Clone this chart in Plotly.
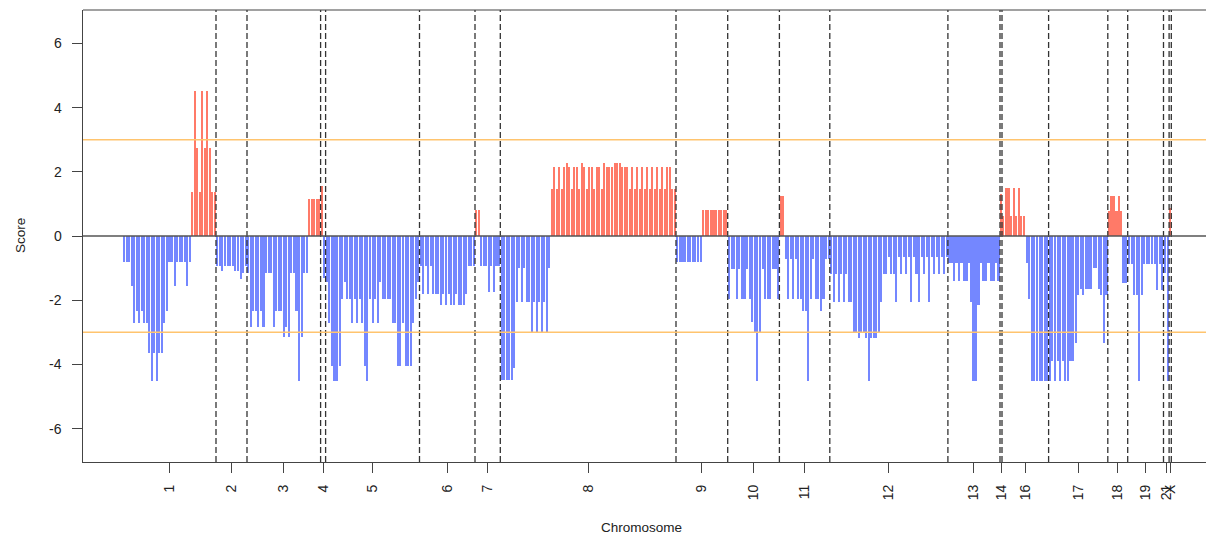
import plotly.graph_objects as go

# Chromosomes shown (15, 20 and 22 carry no probes)
chrom_names = ["1", "2", "3", "4", "5", "6", "7", "8", "9", "10", "11", "12",
               "13", "14", "16", "17", "18", "19", "21", "X"]

# Genome-order position of each chromosome edge (first entry = first probe)
chrom_edges = [40, 133, 164, 237.6, 242.6, 336.5, 392, 417.3, 593, 644.7, 696.4,
               746.8, 864.9, 917, 919, 965.6, 1024.8, 1044.7, 1080.5, 1086.1, 1088.3]

# Probe scores per chromosome, in genome order
chr1 = [-0.82, -0.82, -0.82, -1.55, -2.7, -2.33, -2.7, -2.33, -2.7, -2.7,
        -3.63, -4.52, -3.63, -4.52, -3.63, -3.63, -2.7, -2.33,
        -0.82, -0.82, -1.55, -0.82, -0.82, -0.82, -0.82, -1.55, -0.82,
        1.36, 4.53, 2.73, 1.36, 4.53, 2.73, 4.53, 2.73, 1.36, 1.36]
chr2 = [-0.93, -0.93, -1.08, -0.93, -0.93, -0.93, -0.93, -1.08, -1.08, -1.34, -1.16, -0.93]
chr3 = [-1.16, -2.85, -2.33, -2.33, -2.85, -2.33, -2.85, -1.16, -1.16, -1.16,
        -2.85, -2.33, -2.33, -2.33, -3.14, -2.85, -3.14, -1.16, -1.16,
        -2.33, -4.52, -3.14, -1.16, -1.16, 1.14, 1.14, 1.14, 1.14, 1.14]
chr4 = [1.55, -1.3]
chr5 = [-1.44, -2.72, -4.05, -4.52, -4.52, -4.05, -1.97, -1.44, -1.97, -1.97,
        -2.72, -1.97, -2.72, -1.97, -2.72, -4.05, -4.52, -1.97, -2.72, -1.97,
        -2.72, -1.44, -1.97, -1.97, -1.97, -1.97, -2.72, -2.72, -4.05, -4.05,
        -2.72, -4.05, -4.05, -4.05, -2.72, -1.97, -1.44]
chr6 = [-0.92, -1.82, -0.92, -1.82, -0.92, -1.82, -1.82, -1.82, -2.15, -1.82,
        -2.15, -1.82, -2.15, -2.15, -1.82, -2.15, -2.15, -2.15, -1.82,
        -0.92, -0.92, -0.92]
chr7 = [0.81, 0.81, -0.92, -0.92, -0.92, -1.73, -0.92, -1.73, -0.92, -0.92]
chr8 = [-4.47, -4.47, -4.47, -4.47, -4.47, -4.1, -2.05, -0.99, -2.05, -0.99,
        -2.05, -2.05, -2.98, -2.05, -2.98, -2.05, -2.98, -2.05, -2.98, -0.99,
        1.46, 2.14, 1.46, 2.14, 1.46, 2.14, 2.26, 2.14, 1.46, 2.14,
        2.14, 1.46, 2.26, 2.14, 1.46, 2.14, 2.14, 1.46, 2.14, 2.14,
        1.46, 2.26, 2.14, 2.14, 2.14, 2.26, 2.26, 2.26, 2.14, 2.14,
        2.14, 1.46, 2.14, 1.46, 2.14, 1.46, 2.14, 1.46, 2.14, 1.46,
        2.14, 1.46, 2.14, 1.46, 2.14, 1.46, 2.14, 2.14, 1.46, 1.46]
chr9 = [-0.82, -0.82, -0.82, -0.82, -0.82, -0.82, -0.82, -0.82, -0.82, -0.82,
        0.81, 0.81, 0.81, 0.81, 0.81, 0.81, 0.81, 0.81, 0.81, 0.81]
chr10 = [-1.96, -1.03, -1.03, -1.96, -1.03, -1.96, -1.96, -1.03, -1.96, -2.67,
         -2.98, -4.52, -2.98, -1.03, -1.96, -1.96, -1.96, -1.03, -1.03, -1.96]
chr11 = [1.25, 1.25, -0.73, -1.96, -0.73, -1.96, -0.73, -1.96, -1.96, -2.34,
         -2.34, -4.52, -1.96, -0.73, -1.96, -1.96, -2.34, -1.96, -0.73, -0.73]
chr12 = [-1.18, -2.05, -1.18, -2.05, -1.18, -2.05, -1.18, -2.05,
         -2.05, -2.98, -2.98, -3.19, -2.98, -2.98, -3.19, -4.52, -3.19, -3.19,
         -3.19, -2.98, -2.05, -1.18,
         -1.18, -0.64, -1.18, -1.18, -2.05, -0.64, -1.18, -0.64, -1.18, -0.64,
         -2.05, -0.64, -1.18, -2.05, -0.64, -1.18, -0.64, -2.05, -0.64, -1.18,
         -0.64, -1.18, -0.64, -1.18, -0.64]
chr13 = [-0.85, -0.85, -1.39, -0.85, -1.39, -0.85, -1.39, -1.39, -0.85, -2.05,
         -4.52, -4.52, -2.15, -0.85, -1.39, -1.39, -0.85, -1.39, -1.39, -0.85, -1.39]
chr14 = [1.3]
chr16 = [0.63, 1.5, 1.5, 0.63, 1.5, 0.63, 1.5, 0.63, 0.63,
         -0.85, -1.97, -4.52, -4.52, -4.52, -4.52, -4.52, -4.52, -4.52]
chr17 = [-4.52, -3.88, -4.52, -3.88, -4.52, -3.88, -4.52, -4.52, -3.88, -3.88,
         -3.34, -1.84, -1.65, -1.84, -1.65, -1.65, -1.65, -0.99, -0.99, -1.65,
         -1.84, -3.34, -1.84]
chr18 = [0.78, 1.25, 1.25, 0.78, 1.25, 0.78, -1.45, -1.45]
chr19 = [-0.87, -0.87, -1.84, -1.84, -4.52, -1.84, -0.87, -0.87, -0.87, -0.87,
         -0.87, -1.68, -0.87, -1.68]
chr21 = [-1.15, -4.52]
chrX = [0.86]

chrom_scores = [chr1, chr2, chr3, chr4, chr5, chr6, chr7, chr8, chr9, chr10, chr11,
                chr12, chr13, chr14, chr16, chr17, chr18, chr19, chr21, chrX]

threshold = 3
y_ticks = [-6, -4, -2, 0, 2, 4, 6]

BLUE = "#7487FF"
RED = "#FF7A68"
AXIS = "#444444"

# Spread each chromosome's probes evenly over its span
xs, ys, ws, cols = [], [], [], []
for i, scores in enumerate(chrom_scores):
    start, end = chrom_edges[i], chrom_edges[i + 1]
    step = (end - start) / len(scores)
    for k, v in enumerate(scores):
        xs.append(start + (k + 0.5) * step)
        ys.append(v)
        ws.append(step * 0.8)
        cols.append(RED if v > 0 else BLUE)

mids = [(chrom_edges[i] + chrom_edges[i + 1]) / 2 for i in range(len(chrom_names))]

fig = go.Figure()
fig.add_trace(go.Bar(x=xs, y=ys, width=ws, marker=dict(color=cols, line=dict(width=0)),
                     showlegend=False, hoverinfo="x+y"))

shapes = []
# chromosome boundaries
for e in chrom_edges[1:]:
    shapes.append(dict(type="line", xref="x", yref="paper", x0=e, x1=e, y0=0, y1=1,
                       line=dict(color="#333333", width=1.3, dash="6px,3px"), layer="above"))
# significance thresholds
for t in (threshold, -threshold):
    shapes.append(dict(type="line", xref="paper", yref="y", x0=0, x1=1, y0=t, y1=t,
                       line=dict(color="#FFC46E", width=1.5), layer="above"))
# baseline
shapes.append(dict(type="line", xref="paper", yref="y", x0=0, x1=1, y0=0, y1=0,
                   line=dict(color="#555555", width=1.3), layer="above"))
# top frame
shapes.append(dict(type="line", xref="paper", yref="paper", x0=0, x1=1, y0=1, y1=1,
                   line=dict(color=AXIS, width=1.2), layer="above"))

W, H = 1206, 538
ML, MT, MB = 83, 10, 76
plot_w, plot_h = W - ML, H - MT - MB

annotations = [
    dict(text="Chromosome", xref="paper", yref="paper",
         x=(641 - ML) / plot_w, y=(H - MB - 527) / plot_h,
         xanchor="center", yanchor="middle", showarrow=False, font=dict(size=13.5)),
    dict(text="Score", xref="paper", yref="paper",
         x=(20 - ML) / plot_w, y=0.5, textangle=-90,
         xanchor="center", yanchor="middle", showarrow=False, font=dict(size=13.5)),
]
# y tick labels, right-aligned a little left of the tick marks
for v in y_ticks:
    annotations.append(dict(text=str(v), xref="paper", yref="y",
                            x=(64 - ML) / plot_w, y=v, xanchor="right", yanchor="middle",
                            showarrow=False, font=dict(size=14)))

fig.update_layout(
    width=W, height=H,
    margin=dict(l=ML, r=0, t=MT, b=MB, pad=0),
    plot_bgcolor="white", paper_bgcolor="white",
    font=dict(family="Liberation Sans, Arial, sans-serif", size=14, color="#222222"),
    bargap=0,
    shapes=shapes,
    annotations=annotations,
    xaxis=dict(range=[0, plot_w], tickmode="array", tickvals=mids, ticktext=chrom_names,
               tickangle=-90, ticks="outside", ticklen=10, tickcolor=AXIS,
               ticklabelstandoff=6,
               showline=True, linecolor=AXIS, linewidth=1.2,
               showgrid=False, zeroline=False, fixedrange=True),
    yaxis=dict(range=[-7.04, 7.04], tickmode="array", tickvals=y_ticks,
               showticklabels=False, ticks="outside", ticklen=10,
               tickcolor=AXIS, showline=True, linecolor=AXIS, linewidth=1.2,
               showgrid=False, zeroline=False, fixedrange=True),
)

fig.write_html("out.html")
